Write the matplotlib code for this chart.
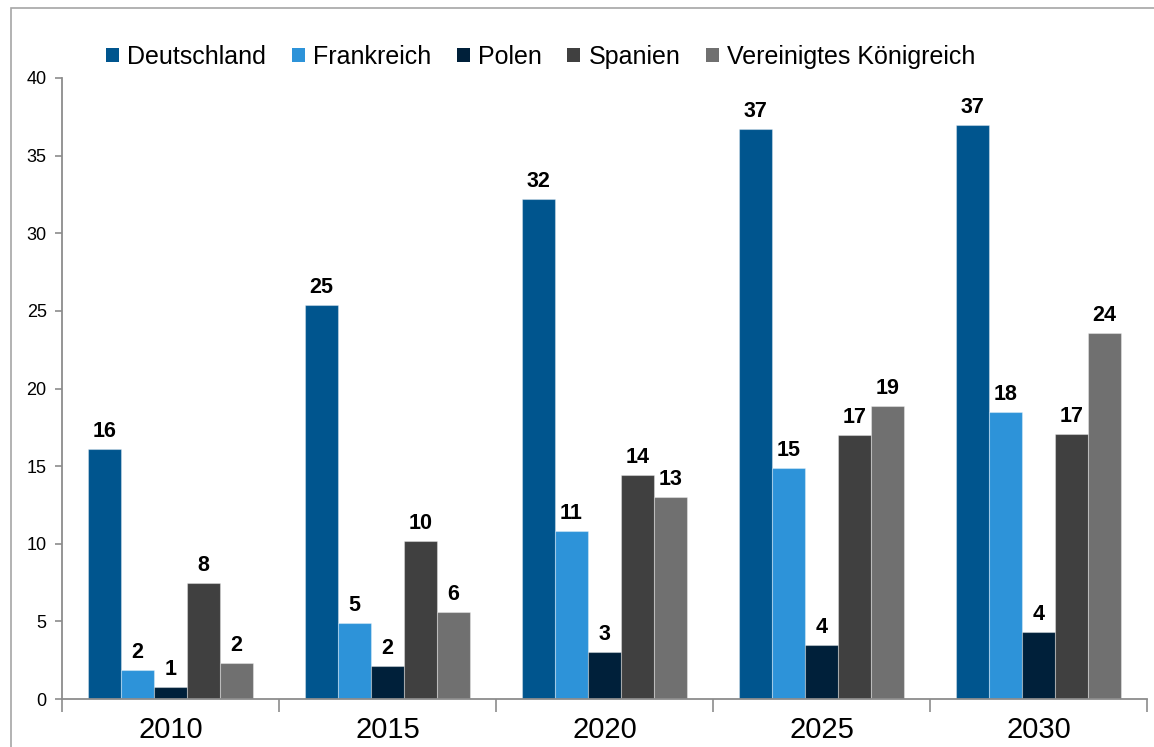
import numpy as np
import matplotlib
matplotlib.use("Agg")
import matplotlib.pyplot as plt
from matplotlib.patches import Patch, Rectangle

plt.rcParams['font.family'] = ['Liberation Sans', 'DejaVu Sans']

### data
years = ['2010', '2015', '2020', '2025', '2030']
countries = ['Deutschland', 'Frankreich', 'Polen', 'Spanien', 'Vereinigtes Königreich']
deutschland = [16.1, 25.4, 32.2, 36.7, 37.0]
frankreich = [1.9, 4.9, 10.8, 14.9, 18.5]
polen = [0.8, 2.1, 3.0, 3.5, 4.3]
spanien = [7.5, 10.2, 14.4, 17.0, 17.1]
uk = [2.3, 5.6, 13.0, 18.9, 23.6]
labels = [[16, 25, 32, 37, 37],
          [2, 5, 11, 15, 18],
          [1, 2, 3, 4, 4],
          [8, 10, 14, 17, 17],
          [2, 6, 13, 19, 24]]
colors = ['#00558E', '#2D93D9', '#00203A', '#404040', '#707070']

series = [deutschland, frankreich, polen, spanien, uk]

fig = plt.figure(figsize=(11.54, 7.47), dpi=100)
ax = fig.add_axes([62/1154, 1-699/747, (1147-62)/1154, (699-78)/747])

x = np.arange(len(years))
w = 0.152
for i, (vals, col) in enumerate(zip(series, colors)):
    bars = ax.bar(x + (i-2)*w, vals, width=w, color=col,
                  edgecolor=(1, 1, 1, 0.35), linewidth=0.8)
    for b, lab in zip(bars, labels[i]):
        ax.annotate(str(lab), (b.get_x() + b.get_width()/2, b.get_height()),
                    xytext=(0, 5), textcoords='offset points',
                    ha='center', va='bottom', fontsize=15.5, fontweight='bold')

ax.set_xlim(-0.5, len(years)-0.5)
ax.set_ylim(0, 40)
ax.set_yticks(range(0, 41, 5))
ax.tick_params(axis='y', direction='out', length=5, color='#8c8c8c',
               width=1.2, labelsize=13, pad=6)

# category boundary ticks, labels in the middle
ax.set_xticks(np.arange(-0.5, len(years), 1.0))
ax.set_xticklabels([])
ax.set_xticks(x, minor=True)
ax.set_xticklabels(years, minor=True)
ax.tick_params(axis='x', which='major', direction='out', length=9,
               color='#8c8c8c', width=1.2)
ax.tick_params(axis='x', which='minor', length=0, labelsize=21, pad=12)

for s in ['top', 'right']:
    ax.spines[s].set_visible(False)
for s in ['left', 'bottom']:
    ax.spines[s].set_color('#8c8c8c')
    ax.spines[s].set_linewidth(1.3)

handles = [Patch(facecolor=c, edgecolor='none') for c in colors]
fig.legend(handles, countries, loc='center left',
           bbox_to_anchor=(106/1154, 1-57/747), ncol=5, frameon=False,
           fontsize=18, handlelength=0.52, handleheight=0.52,
           handletextpad=0.33, columnspacing=1.02, borderpad=0,
           borderaxespad=0)

# outer frame (cut at right/bottom)
fig.patches.append(Rectangle((11/1154, -0.1), 1.2, 1.1 - 8/747,
                             transform=fig.transFigure, fill=False,
                             edgecolor='#a6a6a6', linewidth=1.2))

plt.savefig('out.png', dpi=100)
